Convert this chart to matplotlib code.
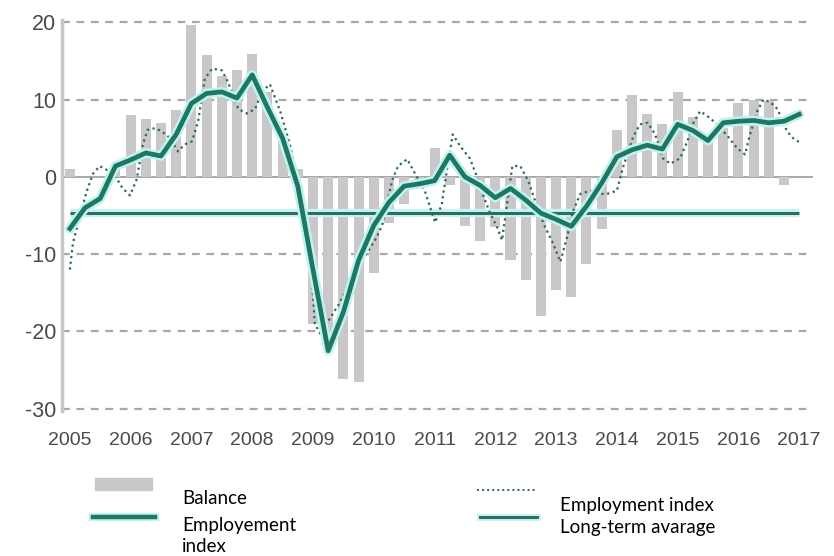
import matplotlib.pyplot as plt
import numpy as np

plt.rcParams['font.family'] = ['Liberation Sans', 'DejaVu Sans']
plt.rcParams['axes.unicode_minus'] = False

# quarterly balance bars, 2005Q1 .. 2016Q4
balance = [1, 0, 0, 1, 8, 7.5, 7, 8.7, 19.6, 15.8, 13, 13.8, 15.9, 11, 5, 1,
           -19, -21, -26.2, -26.5, -12.4, -6, -3.5, -1, 3.7, -1, -6.3, -8.3,
           -6.5, -10.8, -13.3, -18, -14.6, -15.5, -11.3, -6.7, 6.1, 10.6, 8.2,
           6.9, 11, 7.8, 5, 6.3, 9.5, 10, 9.8, -1]

# smoothed employment index, quarterly 2005Q1 .. 2017Q1
emp_smooth = [-6.7, -4.0, -2.8, 1.4, 2.2, 3.1, 2.7, 5.5, 9.5, 10.8, 11.0, 10.2,
              13.2, 9.0, 5.0, -1.2, -12.0, -22.5, -17.5, -10.8, -6.3, -3.3,
              -1.2, -0.9, -0.5, 2.8, 0.0, -1.1, -2.7, -1.5, -3.0, -4.7, -5.5,
              -6.4, -3.8, -0.8, 2.6, 3.5, 4.1, 3.6, 6.8, 6.0, 4.7, 7.0, 7.2,
              7.3, 7.0, 7.2, 8.1]

# raw employment index (years after 2005)
emp_t = [0.00, 0.05, 0.16, 0.28, 0.38, 0.49, 0.63, 0.77, 0.87, 0.99, 1.10,
         1.20, 1.28, 1.40, 1.51, 1.65, 1.78, 1.89, 2.01, 2.11, 2.22, 2.34,
         2.50, 2.60, 2.77, 2.91, 3.05, 3.16, 3.29, 3.46, 3.62, 3.79, 3.95,
         4.03, 4.12, 4.44, 4.72, 5.05, 5.15, 5.30, 5.40, 5.55, 5.68, 5.84,
         5.93, 6.01, 6.12, 6.21, 6.30, 6.42, 6.58, 6.70, 6.78, 6.91, 7.03,
         7.11, 7.28, 7.41, 7.54, 7.65, 7.79, 7.95, 8.07, 8.18, 8.28, 8.40,
         8.56, 8.72, 8.84, 9.00, 9.10, 9.27, 9.38, 9.51, 9.63, 9.76, 9.88,
         10.04, 10.16, 10.26, 10.37, 10.50, 10.65, 10.83, 10.98, 11.11,
         11.19, 11.31, 11.41, 11.52, 11.64, 11.80, 11.90, 12.02]
emp_raw = [-12, -8.6, -5.2, -1.8, 0.4, 1.4, 0.8, -0.2, -1.5, -2.4, -0.3,
           4.2, 6.1, 6.3, 5.9, 5.0, 3.3, 4.2, 4.6, 7.2, 12.7, 14.0, 13.8,
           12.3, 8.8, 8.2, 8.8, 11.0, 12.0, 8.5, 4.2, -2.0, -9.5, -19.0,
           -20.3, -16.3, -12.0, -7.8, -6.0, -0.5, 1.4, 2.3, 0.4, -1.8, -4.0,
           -5.9, -3.5, 1.2, 5.5, 4.0, 2.4, 0.0, -2.0, -4.6, -6.5, -8.2, 1.4,
           1.4, -0.5, -3.0, -6.0, -8.6, -11.0, -7.8, -4.4, -2.2, -1.8, -2.2,
           -2.2, -1.8, 1.2, 5.2, 6.8, 7.0, 5.5, 2.4, 1.7, 2.4, 4.6, 7.0, 8.5,
           7.8, 6.8, 5.2, 3.7, 2.9, 5.5, 8.5, 10.0, 9.7, 8.8, 5.9, 5.0, 4.4]

long_term_avg = -4.7
years = list(range(2005, 2018))

q_bar = 2005 + np.arange(len(balance)) / 4
q_line = 2005 + np.arange(len(emp_smooth)) / 4
t_raw = 2005 + np.array(emp_t)

fig = plt.figure(figsize=(8.34, 5.56), dpi=100)
ax = fig.add_axes([0.0743, 0.2608, 0.9, 0.7032])

for y in [20, 10, -10, -20, -30]:
    ax.axhline(y, color='#a8a8a8', lw=1.6, ls=(0, (3.5, 3)), zorder=0)
ax.axhline(0, color='#9a9a9a', lw=1.2, zorder=1)

ax.bar(q_bar, balance, width=0.165, color='#c9c7c9', zorder=2)
ax.hlines(long_term_avg, 2005, q_line[-1], color='#c8f4f0', lw=6, zorder=3)
ax.hlines(long_term_avg, 2005, q_line[-1], color='#2f6c66', lw=2.2, zorder=3)
ax.plot(t_raw, emp_raw, color='#2b6b55', lw=1.6, ls=(0, (1, 1.6)), zorder=4)
ax.plot(q_line, emp_smooth, color='#c2f2ec', lw=7, solid_capstyle='round', zorder=5)
ax.plot(q_line, emp_smooth, color='#1c7864', lw=3.4, solid_joinstyle='round', zorder=6)

ax.set_xlim(2004.87, 2017.22)
ax.set_ylim(-30.3, 20.3)
ax.set_yticks([20, 10, 0, -10, -20, -30])
ax.set_xticks(years)
ax.tick_params(length=0, colors='#4a4a4a')
ax.tick_params(axis='y', pad=4, labelsize=15.5)
ax.tick_params(axis='x', pad=15, labelsize=14)
for s in ['top', 'right', 'bottom']:
    ax.spines[s].set_visible(False)
ax.spines['left'].set_color('#c6c6c6')
ax.spines['left'].set_linewidth(2.5)

# legend drawn by hand below the axis
W, H = 834, 556
def fx(px):
    return px / W
def fy(py):
    return 1 - py / H

fig.add_artist(plt.Rectangle((fx(95), fy(490)), fx(152) - fx(95), 12 / H,
                             color='#c9c7c9', transform=fig.transFigure))
fig.add_artist(plt.Line2D([fx(93), fx(155)], [fy(517), fy(517)], color='#c2f2ec', lw=6))
fig.add_artist(plt.Line2D([fx(93), fx(155)], [fy(517), fy(517)], color='#1c7864', lw=3.2))
fig.add_artist(plt.Line2D([fx(477), fx(537)], [fy(490), fy(490)], color='#2b6b55',
                          lw=1.4, ls=(0, (1, 1.6))))
fig.add_artist(plt.Line2D([fx(480), fx(537)], [fy(517), fy(517)], color='#c8f4f0', lw=5))
fig.add_artist(plt.Line2D([fx(480), fx(537)], [fy(517), fy(517)], color='#2f6c66', lw=2.2))

txt = dict(fontsize=13.5, family='Lato', color='black', va='center', ha='left')
fig.text(fx(182), fy(499), 'Balance', **txt)
fig.text(fx(182), fy(525), 'Employement', **txt)
fig.text(fx(182), fy(547), 'index', **txt)
fig.text(fx(560), fy(505), 'Employment index', **txt)
fig.text(fx(560), fy(528), 'Long-term avarage', **txt)

fig.savefig('out.png', dpi=100)
